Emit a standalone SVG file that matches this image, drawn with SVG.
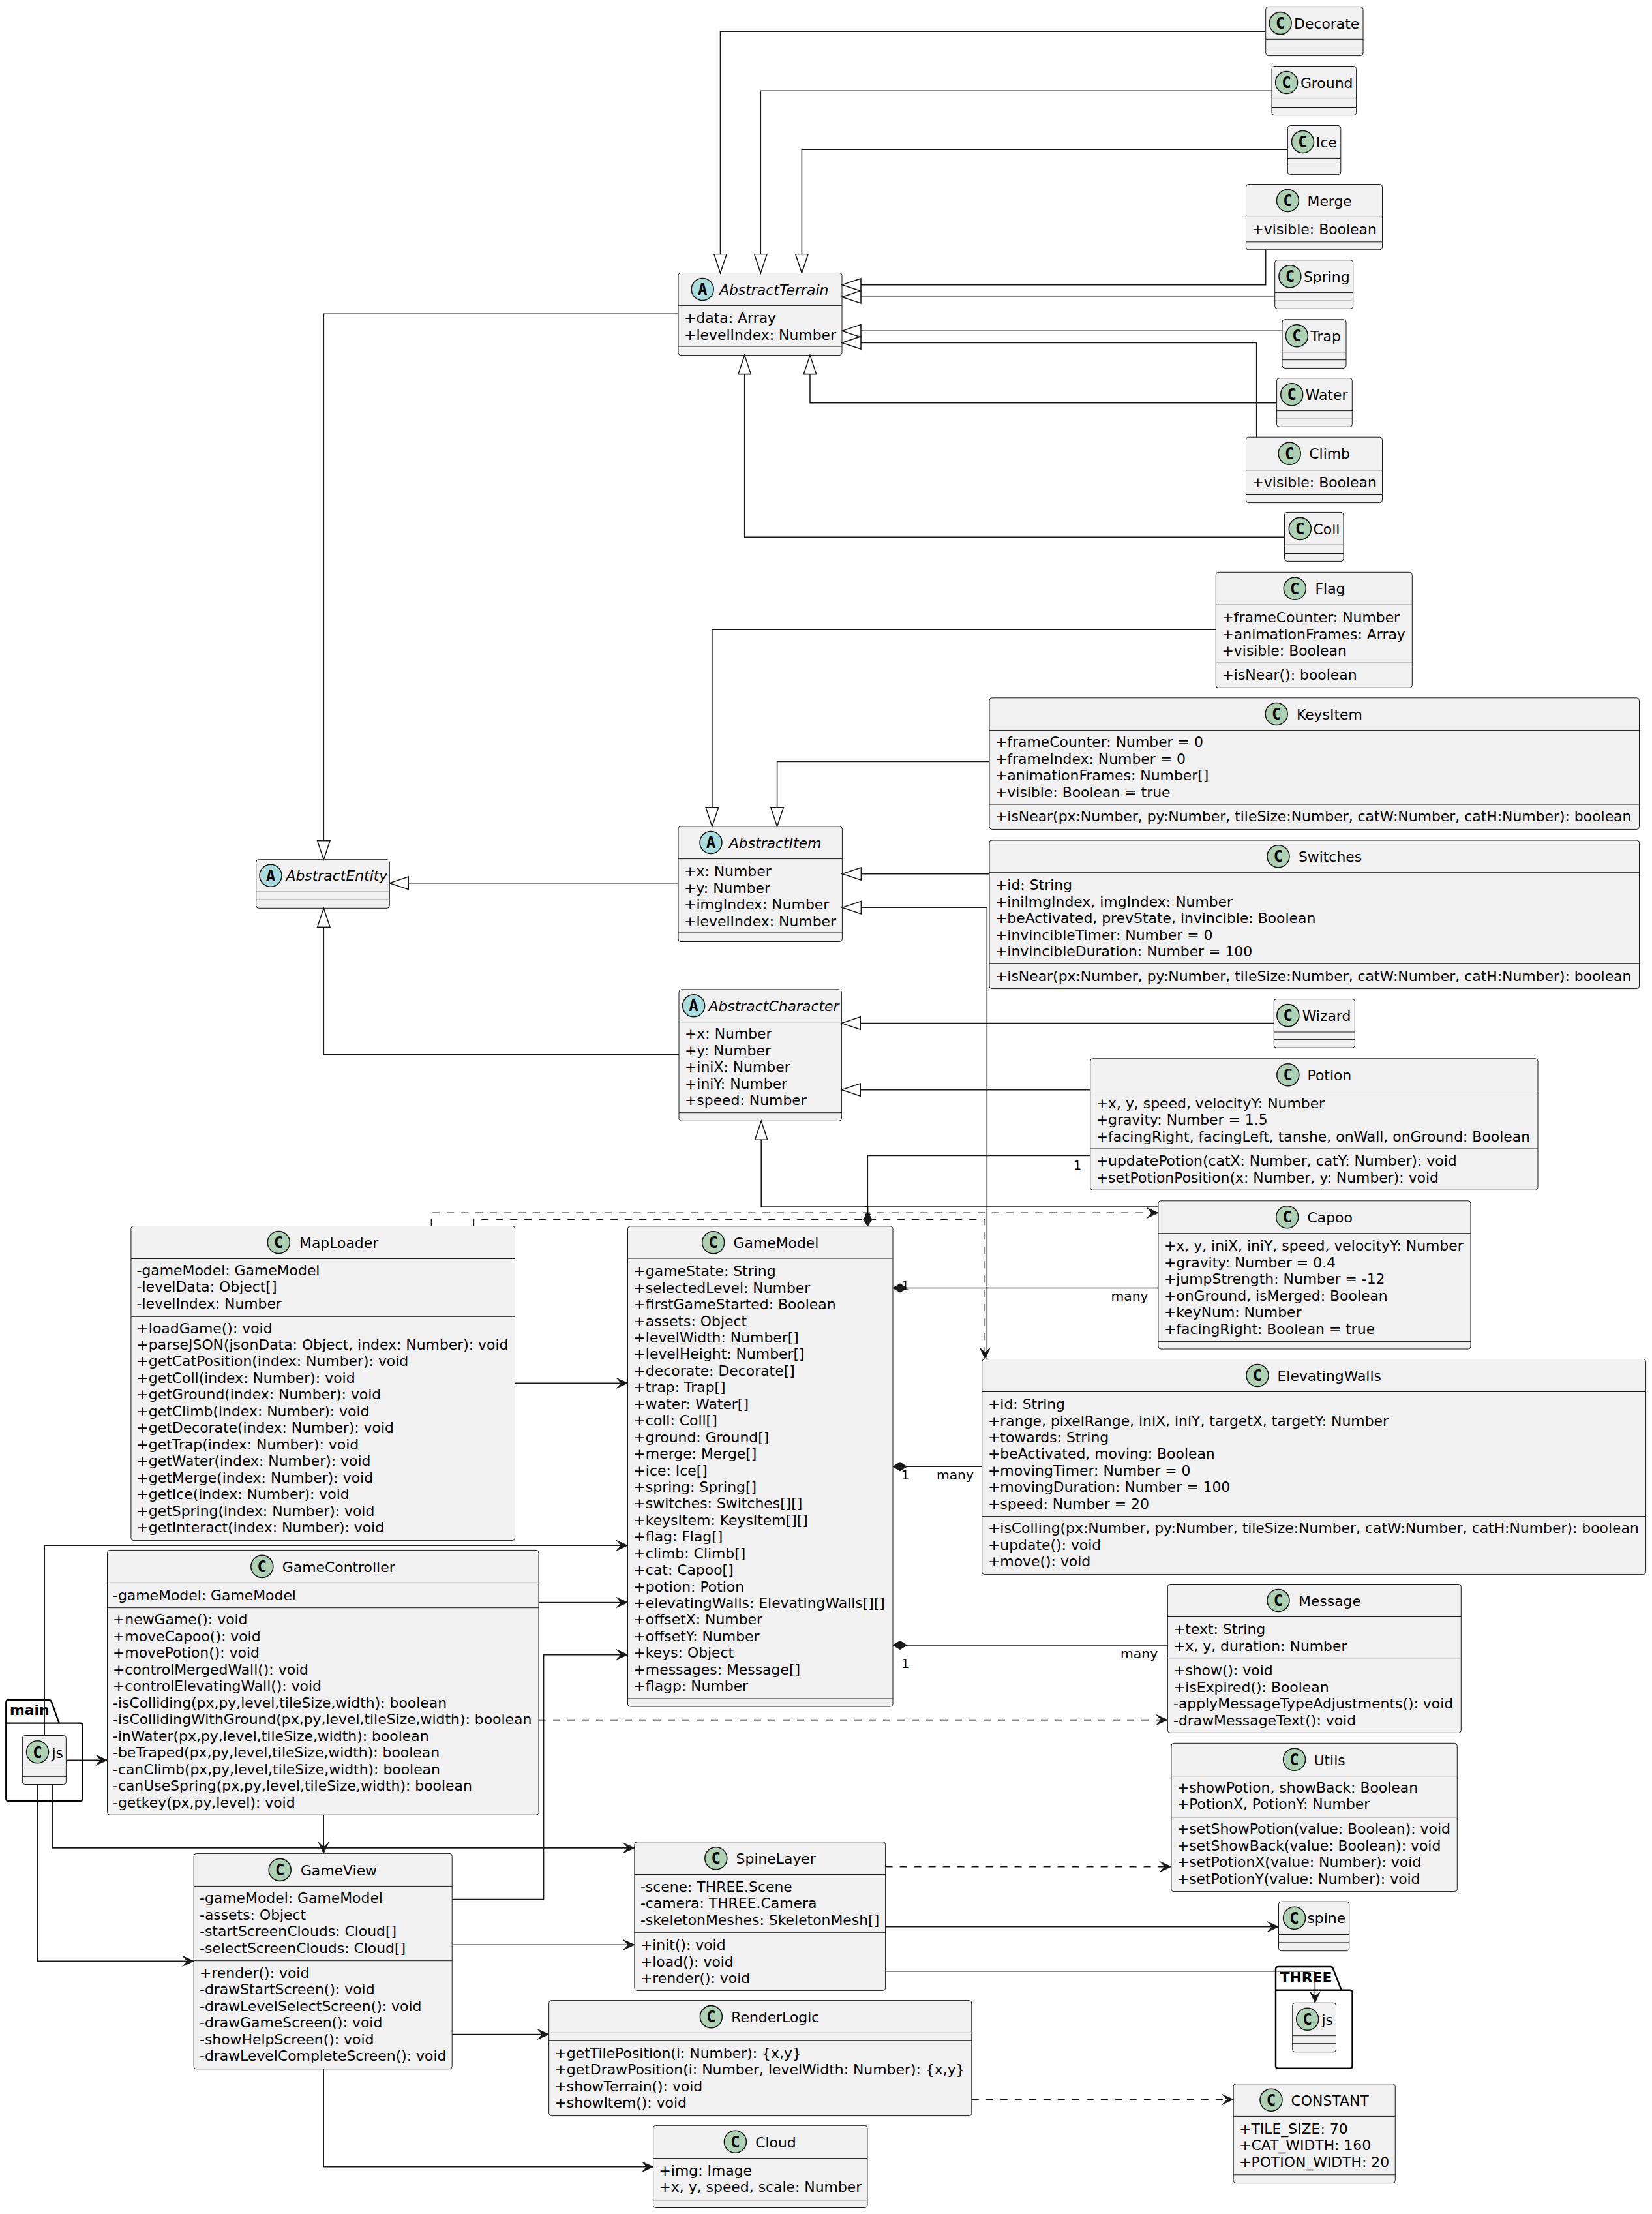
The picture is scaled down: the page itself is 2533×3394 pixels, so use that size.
<svg xmlns="http://www.w3.org/2000/svg" width="2533" height="3394" viewBox="0 0 2533 3394">
<style>
text{font-family:"DejaVu Sans",sans-serif;font-size:21.9px;fill:#000;transform:translate(-1.5px,0.3px)}
.i{font-style:italic}
.l{font-size:20.3px}
.p{font-weight:bold}
.g{font-family:"DejaVu Sans Mono",monospace;font-weight:bold;font-size:24px;text-anchor:middle;transform:none}
rect.b{fill:#F1F1F1;stroke:#181818;stroke-width:1}
line.d{stroke:#181818;stroke-width:1}
circle.c{fill:#ADD1B2;stroke:#181818;stroke-width:1.56}
circle.a{fill:#A9DCDF;stroke:#181818;stroke-width:1.56}
path.k{fill:none;stroke:#000;stroke-width:2.4}
#connectors path{fill:none;stroke:#181818;stroke-width:1.56}
#connectors path.da{stroke-dasharray:11 11}
#connectors path.tri{marker-end:url(#tri)}
#connectors path.arr{marker-end:url(#arr)}
#connectors path.dia{marker-end:url(#dia)}
</style>
<defs>
<marker id="tri" markerUnits="userSpaceOnUse" markerWidth="32" markerHeight="24" refX="30" refY="12" orient="auto"><path d="M30,12 L1,2.3 L1,21.7 Z" fill="#fff" stroke="#181818" stroke-width="1.56"/></marker>
<marker id="arr" markerUnits="userSpaceOnUse" markerWidth="20" markerHeight="20" refX="18.5" refY="10" orient="auto"><path d="M18.5,10 L1,2 L8.5,10 L1,18 Z" fill="#181818" stroke="#181818" stroke-width="0.8"/></marker>
<marker id="dia" markerUnits="userSpaceOnUse" markerWidth="24" markerHeight="18" refX="22" refY="9" orient="auto"><path d="M22,9 L11,2.3 L0.5,9 L11,15.7 Z" fill="#181818" stroke="#181818" stroke-width="0.8"/></marker>
</defs>
<rect width="2533" height="3394" fill="#fff"/>
<g id="nodes">
<g id="Decorate"><rect class="b" x="1940.7" y="10.4" width="149.3" height="75.2" rx="4"/><line class="d" x1="1940.7" y1="60.3" x2="2090" y2="60.3"/><line class="d" x1="1940.7" y1="73.5" x2="2090" y2="73.5"/><circle class="c" cx="1963.2" cy="35.6" r="17"/><text class="g" x="1963.2" y="44">C</text><text x="1985.6" y="43.6">Decorate</text></g>
<g id="Ground"><rect class="b" x="1950" y="101.5" width="129.6" height="75.1" rx="4"/><line class="d" x1="1950" y1="151.4" x2="2079.6" y2="151.4"/><line class="d" x1="1950" y1="164.5" x2="2079.6" y2="164.5"/><circle class="c" cx="1972.6" cy="126.5" r="17"/><text class="g" x="1972.6" y="135">C</text><text x="1995.4" y="134.5">Ground</text></g>
<g id="Ice"><rect class="b" x="1974.4" y="192.5" width="81.4" height="75.1" rx="4"/><line class="d" x1="1974.4" y1="242.4" x2="2055.8" y2="242.4"/><line class="d" x1="1974.4" y1="254.5" x2="2055.8" y2="254.5"/><circle class="c" cx="1997.5" cy="217.5" r="17"/><text class="g" x="1997.5" y="226">C</text><text x="2019.3" y="225.5">Ice</text></g>
<g id="Merge"><rect class="b" x="1910.5" y="282.5" width="209" height="100.3" rx="4"/><line class="d" x1="1910.5" y1="332.4" x2="2119.5" y2="332.4"/><line class="d" x1="1910.5" y1="370.8" x2="2119.5" y2="370.8"/><circle class="c" cx="1974.4" cy="307.5" r="17"/><text class="g" x="1974.4" y="316">C</text><text x="2006" y="315.5">Merge</text><text x="1921" y="359">+visible: Boolean</text></g>
<g id="Spring"><rect class="b" x="1954.7" y="398.7" width="120" height="74.6" rx="4"/><line class="d" x1="1954.7" y1="448.6" x2="2074.7" y2="448.6"/><line class="d" x1="1954.7" y1="461.3" x2="2074.7" y2="461.3"/><circle class="c" cx="1977.9" cy="423.7" r="17"/><text class="g" x="1977.9" y="432">C</text><text x="2000.4" y="431.7">Spring</text></g>
<g id="Trap"><rect class="b" x="1966" y="489.8" width="98" height="74.6" rx="4"/><line class="d" x1="1966" y1="539.7" x2="2064" y2="539.7"/><line class="d" x1="1966" y1="551.7" x2="2064" y2="551.7"/><circle class="c" cx="1988.4" cy="514.8" r="17"/><text class="g" x="1988.4" y="523">C</text><text x="2010.9" y="522.8">Trap</text></g>
<g id="Water"><rect class="b" x="1957.6" y="579.7" width="115.7" height="74.6" rx="4"/><line class="d" x1="1957.6" y1="629.6" x2="2073.3" y2="629.6"/><line class="d" x1="1957.6" y1="642.3" x2="2073.3" y2="642.3"/><circle class="c" cx="1980.7" cy="604.7" r="17"/><text class="g" x="1980.7" y="613">C</text><text x="2003.2" y="612.7">Water</text></g>
<g id="Climb"><rect class="b" x="1910.5" y="670.2" width="209" height="100.4" rx="4"/><line class="d" x1="1910.5" y1="720.7" x2="2119.5" y2="720.7"/><line class="d" x1="1910.5" y1="758.5" x2="2119.5" y2="758.5"/><circle class="c" cx="1977.2" cy="695.2" r="17"/><text class="g" x="1977.2" y="704">C</text><text x="2008.8" y="703.2">Climb</text><text x="1921" y="747">+visible: Boolean</text></g>
<g id="Coll"><rect class="b" x="1969.5" y="785.4" width="90.5" height="75" rx="4"/><line class="d" x1="1969.5" y1="835.3" x2="2060" y2="835.3"/><line class="d" x1="1969.5" y1="848.5" x2="2060" y2="848.5"/><circle class="c" cx="1993.3" cy="810.4" r="17"/><text class="g" x="1993.3" y="819">C</text><text x="2015" y="818.4">Coll</text></g>
<g id="AbstractTerrain"><rect class="b" x="1040" y="418.5" width="251" height="126.1" rx="4"/><line class="d" x1="1040" y1="468.4" x2="1291" y2="468.4"/><line class="d" x1="1040" y1="531" x2="1291" y2="531"/><circle class="a" cx="1077.2" cy="443.5" r="17"/><text class="g" x="1077.2" y="452">A</text><text class="i" x="1104.5" y="451.5">AbstractTerrain</text><text x="1050.6" y="495">+data: Array</text><text x="1050.6" y="520.5">+levelIndex: Number</text></g>
<g id="AbstractEntity"><rect class="b" x="392.7" y="1317.7" width="204.6" height="74.6" rx="4"/><line class="d" x1="392.7" y1="1367.3" x2="597.3" y2="1367.3"/><line class="d" x1="392.7" y1="1379.3" x2="597.3" y2="1379.3"/><circle class="a" cx="415" cy="1342.3" r="17"/><text class="g" x="415" y="1350.8">A</text><text class="i" x="440" y="1349.5">AbstractEntity</text></g>
<g id="Flag"><rect class="b" x="1864.3" y="877.3" width="301" height="177" rx="4"/><line class="d" x1="1864.3" y1="927.3" x2="2165.3" y2="927.3"/><line class="d" x1="1864.3" y1="1016.3" x2="2165.3" y2="1016.3"/><circle class="c" cx="1985.3" cy="902.3" r="17"/><text class="g" x="1985.3" y="910.8">C</text><text x="2018" y="910">Flag</text><text x="1875" y="954">+frameCounter: Number</text><text x="1875" y="979.4">+animationFrames: Array</text><text x="1875" y="1004.8">+visible: Boolean</text><text x="1875" y="1042.2">+isNear(): boolean</text></g>
<g id="KeysItem"><rect class="b" x="1517" y="1069.8" width="996.5" height="201.6" rx="4"/><line class="d" x1="1517" y1="1119.6" x2="2513.5" y2="1119.6"/><line class="d" x1="1517" y1="1233" x2="2513.5" y2="1233"/><circle class="c" cx="1957.2" cy="1094.5" r="17"/><text class="g" x="1957.2" y="1103">C</text><text x="1989.4" y="1103">KeysItem</text><text x="1527.5" y="1145">+frameCounter: Number = 0</text><text x="1527.5" y="1170.5">+frameIndex: Number = 0</text><text x="1527.5" y="1196">+animationFrames: Number[]</text><text x="1527.5" y="1221.5">+visible: Boolean = true</text><text x="1527.5" y="1259">+isNear(px:Number, py:Number, tileSize:Number, catW:Number, catH:Number): boolean</text></g>
<g id="Switches"><rect class="b" x="1517" y="1288" width="996.5" height="227.6" rx="4"/><line class="d" x1="1517" y1="1337.7" x2="2513.5" y2="1337.7"/><line class="d" x1="1517" y1="1477.3" x2="2513.5" y2="1477.3"/><circle class="c" cx="1960" cy="1312.8" r="17"/><text class="g" x="1960" y="1321">C</text><text x="1992.4" y="1321">Switches</text><text x="1527.5" y="1364">+id: String</text><text x="1527.5" y="1389.5">+iniImgIndex, imgIndex: Number</text><text x="1527.5" y="1415">+beActivated, prevState, invincible: Boolean</text><text x="1527.5" y="1440.5">+invincibleTimer: Number = 0</text><text x="1527.5" y="1466">+invincibleDuration: Number = 100</text><text x="1527.5" y="1503.5">+isNear(px:Number, py:Number, tileSize:Number, catW:Number, catH:Number): boolean</text></g>
<g id="AbstractItem"><rect class="b" x="1040" y="1266.9" width="251.4" height="176.6" rx="4"/><line class="d" x1="1040" y1="1316.6" x2="1291.4" y2="1316.6"/><line class="d" x1="1040" y1="1430" x2="1291.4" y2="1430"/><circle class="a" cx="1090" cy="1291.5" r="17"/><text class="g" x="1090" y="1300">A</text><text class="i" x="1119.3" y="1300">AbstractItem</text><text x="1050.6" y="1342.8">+x: Number</text><text x="1050.6" y="1368.3">+y: Number</text><text x="1050.6" y="1393.8">+imgIndex: Number</text><text x="1050.6" y="1419.3">+levelIndex: Number</text></g>
<g id="AbstractCharacter"><rect class="b" x="1041" y="1516.9" width="249.4" height="201.5" rx="4"/><line class="d" x1="1041" y1="1566.6" x2="1290.4" y2="1566.6"/><line class="d" x1="1041" y1="1705.7" x2="1290.4" y2="1705.7"/><circle class="a" cx="1063.6" cy="1541.8" r="17"/><text class="g" x="1063.6" y="1550">A</text><text class="i" x="1088" y="1550">AbstractCharacter</text><text x="1051.5" y="1592">+x: Number</text><text x="1051.5" y="1617.5">+y: Number</text><text x="1051.5" y="1643">+iniX: Number</text><text x="1051.5" y="1668.5">+iniY: Number</text><text x="1051.5" y="1694">+speed: Number</text></g>
<g id="Wizard"><rect class="b" x="1953.3" y="1531.6" width="124.1" height="74.6" rx="4"/><line class="d" x1="1953.3" y1="1582" x2="2077.4" y2="1582"/><line class="d" x1="1953.3" y1="1593.4" x2="2077.4" y2="1593.4"/><circle class="c" cx="1974.8" cy="1556.6" r="17"/><text class="g" x="1974.8" y="1565">C</text><text x="1998.2" y="1564.6">Wizard</text></g>
<g id="Potion"><rect class="b" x="1671.7" y="1622.8" width="686.3" height="201.5" rx="4"/><line class="d" x1="1671.7" y1="1672.5" x2="2358" y2="1672.5"/><line class="d" x1="1671.7" y1="1761" x2="2358" y2="1761"/><circle class="c" cx="1974.8" cy="1647.8" r="17"/><text class="g" x="1974.8" y="1656">C</text><text x="2006" y="1656">Potion</text><text x="1682.2" y="1698.7">+x, y, speed, velocityY: Number</text><text x="1682.2" y="1724.2">+gravity: Number = 1.5</text><text x="1682.2" y="1749.7">+facingRight, facingLeft, tanshe, onWall, onGround: Boolean</text><text x="1682.2" y="1787">+updatePotion(catX: Number, catY: Number): void</text><text x="1682.2" y="1812.5">+setPotionPosition(x: Number, y: Number): void</text></g>
<g id="Capoo"><rect class="b" x="1775.9" y="1840.8" width="479.1" height="227.2" rx="4"/><line class="d" x1="1775.9" y1="1890.7" x2="2255" y2="1890.7"/><line class="d" x1="1775.9" y1="2056.6" x2="2255" y2="2056.6"/><circle class="c" cx="1973.7" cy="1865.8" r="17"/><text class="g" x="1973.7" y="1874">C</text><text x="2006" y="1874">Capoo</text><text x="1786.5" y="1917">+x, y, iniX, iniY, speed, velocityY: Number</text><text x="1786.5" y="1942.5">+gravity: Number = 0.4</text><text x="1786.5" y="1968">+jumpStrength: Number = -12</text><text x="1786.5" y="1993.5">+onGround, isMerged: Boolean</text><text x="1786.5" y="2019">+keyNum: Number</text><text x="1786.5" y="2044.5">+facingRight: Boolean = true</text></g>
<g id="GameModel"><rect class="b" x="962.5" y="1879.8" width="406.5" height="736.2" rx="4"/><line class="d" x1="962.5" y1="1929" x2="1369" y2="1929"/><line class="d" x1="962.5" y1="2604" x2="1369" y2="2604"/><circle class="c" cx="1093.7" cy="1904.8" r="17"/><text class="g" x="1093.7" y="1913">C</text><text x="1126" y="1913">GameModel</text>
<text x="973" y="1956">+gameState: String</text><text x="973" y="1981.4">+selectedLevel: Number</text><text x="973" y="2006.9">+firstGameStarted: Boolean</text><text x="973" y="2032.3">+assets: Object</text><text x="973" y="2057.8">+levelWidth: Number[]</text><text x="973" y="2083.2">+levelHeight: Number[]</text><text x="973" y="2108.6">+decorate: Decorate[]</text><text x="973" y="2134.1">+trap: Trap[]</text><text x="973" y="2159.5">+water: Water[]</text><text x="973" y="2185">+coll: Coll[]</text><text x="973" y="2210.4">+ground: Ground[]</text><text x="973" y="2235.8">+merge: Merge[]</text><text x="973" y="2261.3">+ice: Ice[]</text><text x="973" y="2286.7">+spring: Spring[]</text><text x="973" y="2312.2">+switches: Switches[][]</text><text x="973" y="2337.6">+keysItem: KeysItem[][]</text><text x="973" y="2363">+flag: Flag[]</text><text x="973" y="2388.5">+climb: Climb[]</text><text x="973" y="2413.9">+cat: Capoo[]</text><text x="973" y="2439.4">+potion: Potion</text><text x="973" y="2464.8">+elevatingWalls: ElevatingWalls[][]</text><text x="973" y="2490.2">+offsetX: Number</text><text x="973" y="2515.7">+offsetY: Number</text><text x="973" y="2541.1">+keys: Object</text><text x="973" y="2566.6">+messages: Message[]</text><text x="973" y="2592">+flagp: Number</text></g>
<g id="ElevatingWalls"><rect class="b" x="1505.7" y="2083.5" width="1017.9" height="330.1" rx="4"/><line class="d" x1="1505.7" y1="2133.5" x2="2523.6" y2="2133.5"/><line class="d" x1="1505.7" y1="2324.6" x2="2523.6" y2="2324.6"/><circle class="c" cx="1928" cy="2108.5" r="17"/><text class="g" x="1928" y="2117">C</text><text x="1960" y="2117">ElevatingWalls</text><text x="1516.5" y="2160">+id: String</text><text x="1516.5" y="2185.4">+range, pixelRange, iniX, iniY, targetX, targetY: Number</text><text x="1516.5" y="2210.8">+towards: String</text><text x="1516.5" y="2236.2">+beActivated, moving: Boolean</text><text x="1516.5" y="2261.6">+movingTimer: Number = 0</text><text x="1516.5" y="2287">+movingDuration: Number = 100</text><text x="1516.5" y="2312.5">+speed: Number = 20</text><text x="1516.5" y="2350">+isColling(px:Number, py:Number, tileSize:Number, catW:Number, catH:Number): boolean</text><text x="1516.5" y="2375.5">+update(): void</text><text x="1516.5" y="2401">+move(): void</text></g>
<g id="Message"><rect class="b" x="1790.4" y="2428.5" width="449.9" height="227.9" rx="4"/><line class="d" x1="1790.4" y1="2478.5" x2="2240.3" y2="2478.5"/><line class="d" x1="1790.4" y1="2541.6" x2="2240.3" y2="2541.6"/><circle class="c" cx="1960" cy="2453.5" r="17"/><text class="g" x="1960" y="2462">C</text><text x="1992.5" y="2462">Message</text><text x="1800.5" y="2504.8">+text: String</text><text x="1800.5" y="2530.3">+x, y, duration: Number</text><text x="1800.5" y="2568">+show(): void</text><text x="1800.5" y="2593.5">+isExpired(): Boolean</text><text x="1800.5" y="2619">-applyMessageTypeAdjustments(): void</text><text x="1800.5" y="2644.5">-drawMessageText(): void</text></g>
<g id="MapLoader"><rect class="b" x="200.9" y="1879.5" width="588.6" height="482.1" rx="4"/><line class="d" x1="200.9" y1="1929.5" x2="789.5" y2="1929.5"/><line class="d" x1="200.9" y1="2018.3" x2="789.5" y2="2018.3"/><circle class="c" cx="427.3" cy="1904.5" r="17"/><text class="g" x="427.3" y="1913">C</text><text x="460.5" y="1913">MapLoader</text><text x="211" y="1954.5">-gameModel: GameModel</text><text x="211" y="1980">-levelData: Object[]</text><text x="211" y="2005.5">-levelIndex: Number</text><text x="211" y="2043.3">+loadGame(): void</text><text x="211" y="2068.8">+parseJSON(jsonData: Object, index: Number): void</text><text x="211" y="2094.2">+getCatPosition(index: Number): void</text><text x="211" y="2119.7">+getColl(index: Number): void</text><text x="211" y="2145.2">+getGround(index: Number): void</text><text x="211" y="2170.7">+getClimb(index: Number): void</text><text x="211" y="2196.1">+getDecorate(index: Number): void</text><text x="211" y="2221.6">+getTrap(index: Number): void</text><text x="211" y="2247.1">+getWater(index: Number): void</text><text x="211" y="2272.6">+getMerge(index: Number): void</text><text x="211" y="2298">+getIce(index: Number): void</text><text x="211" y="2323.5">+getSpring(index: Number): void</text><text x="211" y="2349">+getInteract(index: Number): void</text></g>
<g id="GameController"><rect class="b" x="164.5" y="2376.4" width="661.5" height="405.9" rx="4"/><line class="d" x1="164.5" y1="2426.4" x2="826" y2="2426.4"/><line class="d" x1="164.5" y1="2464.7" x2="826" y2="2464.7"/><circle class="c" cx="401.8" cy="2401.4" r="17"/><text class="g" x="401.8" y="2410">C</text><text x="434.3" y="2410">GameController</text><text x="174.5" y="2452.4">-gameModel: GameModel</text><text x="174.5" y="2490.2">+newGame(): void</text><text x="174.5" y="2515.7">+moveCapoo(): void</text><text x="174.5" y="2541.2">+movePotion(): void</text><text x="174.5" y="2566.7">+controlMergedWall(): void</text><text x="174.5" y="2592">+controlElevatingWall(): void</text><text x="174.5" y="2617.4">-isColliding(px,py,level,tileSize,width): boolean</text><text x="174.5" y="2643">-isCollidingWithGround(px,py,level,tileSize,width): boolean</text><text x="174.5" y="2668.4">-inWater(px,py,level,tileSize,width): boolean</text><text x="174.5" y="2694">-beTraped(px,py,level,tileSize,width): boolean</text><text x="174.5" y="2719.4">-canClimb(px,py,level,tileSize,width): boolean</text><text x="174.5" y="2745">-canUseSpring(px,py,level,tileSize,width): boolean</text><text x="174.5" y="2770.4">-getkey(px,py,level): void</text></g>
<g id="main"><path class="k" d="M9.3,2641.6 V2610 Q9.3,2606 13,2606 H75 Q78,2606 79,2609 L90.7,2641.6 H123 Q126.5,2641.6 126.5,2645 V2757 Q126.5,2761 123,2761 H13 Q9.3,2761 9.3,2757 Z M9.3,2641.6 H90.7"/><text class="p" x="16.5" y="2629">main</text></g>
<g id="main.js"><rect class="b" x="34.4" y="2660.5" width="67" height="75" rx="4"/><line class="d" x1="34.4" y1="2710.5" x2="101.4" y2="2710.5"/><line class="d" x1="34.4" y1="2723.3" x2="101.4" y2="2723.3"/><circle class="c" cx="57.5" cy="2685.7" r="17"/><text class="g" x="57.5" y="2694.5">C</text><text x="81" y="2694.3">js</text></g>
<g id="GameView"><rect class="b" x="297.2" y="2841.4" width="396" height="330.3" rx="4"/><line class="d" x1="297.2" y1="2891.4" x2="693.2" y2="2891.4"/><line class="d" x1="297.2" y1="3005.7" x2="693.2" y2="3005.7"/><circle class="c" cx="429.2" cy="2866.4" r="17"/><text class="g" x="429.2" y="2875">C</text><text x="462.4" y="2875">GameView</text><text x="307.5" y="2917">-gameModel: GameModel</text><text x="307.5" y="2942.5">-assets: Object</text><text x="307.5" y="2968">-startScreenClouds: Cloud[]</text><text x="307.5" y="2993.5">-selectScreenClouds: Cloud[]</text><text x="307.5" y="3031.3">+render(): void</text><text x="307.5" y="3056.8">-drawStartScreen(): void</text><text x="307.5" y="3082.3">-drawLevelSelectScreen(): void</text><text x="307.5" y="3107.8">-drawGameScreen(): void</text><text x="307.5" y="3133.3">-showHelpScreen(): void</text><text x="307.5" y="3158.8">-drawLevelCompleteScreen(): void</text></g>
<g id="SpineLayer"><rect class="b" x="972.9" y="2823.7" width="384.7" height="227.7" rx="4"/><line class="d" x1="972.9" y1="2873.5" x2="1357.6" y2="2873.5"/><line class="d" x1="972.9" y1="2962.7" x2="1357.6" y2="2962.7"/><circle class="c" cx="1097.8" cy="2848.7" r="17"/><text class="g" x="1097.8" y="2857">C</text><text x="1130.1" y="2857">SpineLayer</text><text x="983.4" y="2899.6">-scene: THREE.Scene</text><text x="983.4" y="2925">-camera: THREE.Camera</text><text x="983.4" y="2950.6">-skeletonMeshes: SkeletonMesh[]</text><text x="983.4" y="2988.8">+init(): void</text><text x="983.4" y="3014.3">+load(): void</text><text x="983.4" y="3039.8">+render(): void</text></g>
<g id="RenderLogic"><rect class="b" x="841.6" y="3066.6" width="648.2" height="177" rx="4"/><line class="d" x1="841.6" y1="3116.4" x2="1489.8" y2="3116.4"/><line class="d" x1="841.6" y1="3128.3" x2="1489.8" y2="3128.3"/><circle class="c" cx="1090.4" cy="3091.6" r="17"/><text class="g" x="1090.4" y="3100">C</text><text x="1122.7" y="3100">RenderLogic</text><text x="852" y="3154.4">+getTilePosition(i: Number): {x,y}</text><text x="852" y="3179.9">+getDrawPosition(i: Number, levelWidth: Number): {x,y}</text><text x="852" y="3205.4">+showTerrain(): void</text><text x="852" y="3230.9">+showItem(): void</text></g>
<g id="Cloud"><rect class="b" x="1001.6" y="3258.3" width="328.3" height="126.2" rx="4"/><line class="d" x1="1001.6" y1="3308.6" x2="1329.9" y2="3308.6"/><line class="d" x1="1001.6" y1="3372.7" x2="1329.9" y2="3372.7"/><circle class="c" cx="1127.4" cy="3283.3" r="17"/><text class="g" x="1127.4" y="3292">C</text><text x="1159.7" y="3292">Cloud</text><text x="1012" y="3334.7">+img: Image</text><text x="1012" y="3360.2">+x, y, speed, scale: Number</text></g>
<g id="Utils"><rect class="b" x="1795.9" y="2672.3" width="438.4" height="227.3" rx="4"/><line class="d" x1="1795.9" y1="2722.6" x2="2234.3" y2="2722.6"/><line class="d" x1="1795.9" y1="2785.7" x2="2234.3" y2="2785.7"/><circle class="c" cx="1984.6" cy="2697.3" r="17"/><text class="g" x="1984.6" y="2706">C</text><text x="2016" y="2706">Utils</text><text x="1806.3" y="2747.7">+showPotion, showBack: Boolean</text><text x="1806.3" y="2773.2">+PotionX, PotionY: Number</text><text x="1806.3" y="2810.9">+setShowPotion(value: Boolean): void</text><text x="1806.3" y="2836.4">+setShowBack(value: Boolean): void</text><text x="1806.3" y="2861.9">+setPotionX(value: Number): void</text><text x="1806.3" y="2887.4">+setPotionY(value: Number): void</text></g>
<g id="spine"><rect class="b" x="1960.5" y="2915.2" width="108.2" height="75.5" rx="4"/><line class="d" x1="1960.5" y1="2965.5" x2="2068.7" y2="2965.5"/><line class="d" x1="1960.5" y1="2977.9" x2="2068.7" y2="2977.9"/><circle class="c" cx="1984.6" cy="2940.2" r="17"/><text class="g" x="1984.6" y="2949">C</text><text x="2005.9" y="2948.2">spine</text></g>
<g id="THREE"><path class="k" d="M1956,3050.7 V3018.5 Q1956,3015 1960,3015 H2040 Q2043,3015 2044,3018 L2056.7,3050.7 H2070 Q2073.5,3050.7 2073.5,3054 V3167 Q2073.5,3170.7 2070,3170.7 H1960 Q1956,3170.7 1956,3167 Z M1956,3050.7 H2056.7"/><text class="p" x="1964" y="3038.5">THREE</text></g>
<g id="THREE.js"><rect class="b" x="1981.7" y="3070.3" width="66.8" height="75.4" rx="4"/><line class="d" x1="1981.7" y1="3120.7" x2="2048.5" y2="3120.7"/><line class="d" x1="1981.7" y1="3132.7" x2="2048.5" y2="3132.7"/><circle class="c" cx="2004.7" cy="3095.3" r="17"/><text class="g" x="2004.7" y="3104">C</text><text x="2028" y="3104">js</text></g>
<g id="CONSTANT"><rect class="b" x="1891.2" y="3194.7" width="248.1" height="151.9" rx="4"/><line class="d" x1="1891.2" y1="3244.4" x2="2139.3" y2="3244.4"/><line class="d" x1="1891.2" y1="3333.8" x2="2139.3" y2="3333.8"/><circle class="c" cx="1949" cy="3219.3" r="17"/><text class="g" x="1949" y="3228">C</text><text x="1981" y="3227.3">CONSTANT</text><text x="1901.6" y="3270.6">+TILE_SIZE: 70</text><text x="1901.6" y="3296">+CAT_WIDTH: 160</text><text x="1901.6" y="3321.5">+POTION_WIDTH: 20</text></g>
</g>
<g id="connectors">
<path class="tri" d="M1940.7,48.3 H1104.5 V418.5"/>
<path class="tri" d="M1950,139.3 H1166.3 V418.5"/>
<path class="tri" d="M1974.4,229.3 H1229.4 V418.5"/>
<path class="tri" d="M1940.7,382.8 V436.6 H1291"/>
<path class="tri" d="M1954.7,455.2 H1291"/>
<path class="tri" d="M1966,507.3 H1291"/>
<path class="tri" d="M1926.7,670.2 V525.4 H1291"/>
<path class="tri" d="M1957.6,617.6 H1242 V544.6"/>
<path class="tri" d="M1969.5,823.2 H1141.7 V544.6"/>
<path class="tri" d="M1040,481.2 H496.3 V1317.7"/>
<path class="tri" d="M1040,1353.8 H597.3"/>
<path class="tri" d="M1041,1616.9 H496.3 V1392.3"/>
<path class="tri" d="M1864.3,965.2 H1091.9 V1266.9"/>
<path class="tri" d="M1517,1167.4 H1191.6 V1266.9"/>
<path class="tri" d="M1517,1339.6 H1291.4"/>
<path class="tri" d="M1513.3,2083.5 V1391.2 H1291.4"/>
<path class="tri" d="M1953.3,1568.5 H1290.4"/>
<path class="tri" d="M1671.7,1670.6 H1290.4"/>
<path class="tri" d="M1775.9,1850 H1167.2 V1718.4"/>
<path class="dia" d="M1671.7,1771.4 H1330.3 V1880"/>
<path class="dia" d="M1775.9,1974.5 H1369"/>
<path class="dia" d="M1505.7,2248.3 H1369"/>
<path class="dia" d="M1790.4,2522 H1369"/>
<path class="da arr" d="M661.4,1879.5 V1859.3 H1775.9"/>
<path class="da arr" d="M726.4,1879.5 V1869.3 H1510.3 V2083.5"/>
<path class="arr" d="M789.5,2120.3 H962.5"/>
<path class="arr" d="M68.2,2660.5 V2369.3 H962.5"/>
<path class="arr" d="M826,2456.5 H962.5"/>
<path class="arr" d="M496.2,2782.3 V2841.4"/>
<path class="da arr" d="M826,2636.6 H1790.4"/>
<path class="arr" d="M101.4,2698.3 H164.5"/>
<path class="arr" d="M80.3,2735.5 V2832.9 H972.9"/>
<path class="arr" d="M57.3,2735.5 V3006.3 H297.2"/>
<path class="arr" d="M693.2,2911.6 H833.6 V2536.6 H962.5"/>
<path class="arr" d="M693.2,2981.3 H972.9"/>
<path class="arr" d="M693.2,3118.5 H841.6"/>
<path class="arr" d="M496.2,3171.7 V3321.7 H1001.6"/>
<path class="da arr" d="M1357.6,2861.6 H1795.9"/>
<path class="arr" d="M1357.6,2953.7 H1960.5"/>
<path class="arr" d="M1357.6,3021.7 H2016.3 V3070.3"/>
<path class="da arr" d="M1489.8,3218.4 H1891.2"/>
<text class="l" x="1647" y="1793">1</text>
<text class="l" x="1325" y="1862">1</text>
<text class="l" x="1383" y="1978">1</text>
<text class="l" x="1705" y="1994">many</text>
<text class="l" x="1383" y="2268">1</text>
<text class="l" x="1437.4" y="2268">many</text>
<text class="l" x="1383" y="2556.5">1</text>
<text class="l" x="1719.6" y="2541.6">many</text>
</g>
</svg>
